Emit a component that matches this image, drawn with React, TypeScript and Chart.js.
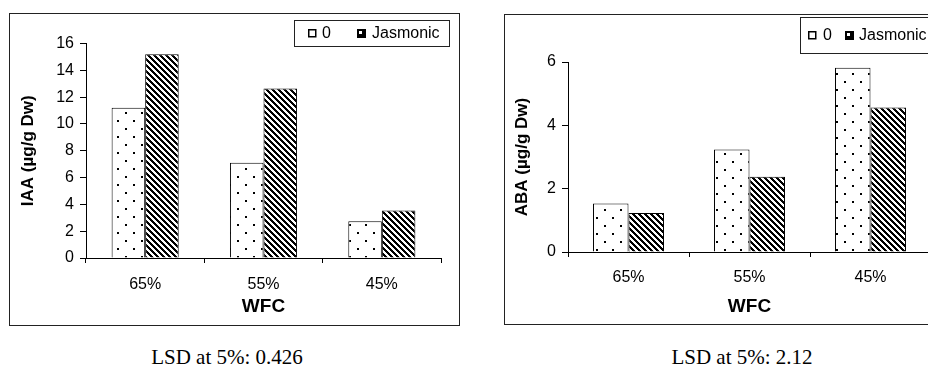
import React, { useEffect, useRef } from "react";
import { Chart, registerables } from "chart.js";

Chart.register(...registerables);

// ---- data ----
const categories = ["65%", "55%", "45%"];
const seriesLabels = ["0", "Jasmonic"];
const iaaControl = [11.2, 7.1, 2.75];
const iaaJasmonic = [15.2, 12.65, 3.55];
const abaControl = [1.53, 3.24, 5.82];
const abaJasmonic = [1.23, 2.38, 4.56];
const iaaTickValues = [0, 2, 4, 6, 8, 10, 12, 14, 16];
const abaTickValues = [0, 2, 4, 6];
const xTitle = "WFC";
const iaaTitle = "IAA (µg/g Dw)";
const abaTitle = "ABA (µg/g Dw)";
const iaaNote = "LSD at 5%: 0.426";
const abaNote = "LSD at 5%: 2.12";

const SANS = "'Liberation Sans', Arial, sans-serif";

function makeDots(): CanvasPattern | string {
  const c = document.createElement("canvas");
  c.width = 16;
  c.height = 16;
  const g = c.getContext("2d");
  if (!g) return "#fff";
  g.fillStyle = "#fff";
  g.fillRect(0, 0, 16, 16);
  g.fillStyle = "#000";
  g.fillRect(4, 3, 2, 2);
  g.fillRect(12, 11, 2, 2);
  return g.createPattern(c, "repeat") || "#fff";
}

function makeStripes(): CanvasPattern | string {
  const P = 6;
  const c = document.createElement("canvas");
  c.width = P;
  c.height = P;
  const g = c.getContext("2d");
  if (!g) return "#000";
  const img = g.createImageData(P, P);
  for (let y = 0; y < P; y++) {
    for (let x = 0; x < P; x++) {
      const m = (((x - y) % P) + P) % P;
      const v = m < 3 ? 0 : 255;
      const i = (y * P + x) * 4;
      img.data[i] = v;
      img.data[i + 1] = v;
      img.data[i + 2] = v;
      img.data[i + 3] = 255;
    }
  }
  g.putImageData(img, 0, 0);
  return g.createPattern(c, "repeat") || "#000";
}

interface Panel {
  width: number;
  height: number;
  area: { left: number; top: number; right: number; bottom: number };
  yTitle: string;
  control: number[];
  jasmonic: number[];
  ticks: number[];
  catPct: number;
  xTickPad: number;
  xTitlePadBottom: number;
  yTitlePadTop: number;
  legend: { x: number; y: number; w: number; h: number; m1: number; t1: number; m2: number; t2: number };
}

function ChartPanel({ p }: { p: Panel }) {
  const ref = useRef<HTMLCanvasElement | null>(null);
  useEffect(() => {
    const canvas = ref.current;
    if (!canvas) return;
    const dots = makeDots();
    const stripes = makeStripes();
    const lg = p.legend;

    const framePlugin = {
      id: "frame",
      afterDraw(chart: any) {
        const ctx = chart.ctx;
        ctx.save();
        ctx.strokeStyle = "#222";
        ctx.lineWidth = 1;
        ctx.strokeRect(0.5, 0.5, chart.width - 1, chart.height - 1);
        // legend box
        ctx.fillStyle = "#fff";
        ctx.fillRect(lg.x, lg.y, lg.w, lg.h);
        ctx.strokeStyle = "#222";
        ctx.strokeRect(lg.x + 0.5, lg.y + 0.5, lg.w, lg.h);
        const cy = lg.y + lg.h / 2;
        const ds = chart.data.datasets;
        // marker 1: white square
        ctx.fillStyle = "#fff";
        ctx.fillRect(lg.m1, cy - 4, 8, 8);
        ctx.strokeStyle = "#000";
        ctx.lineWidth = 1.5;
        ctx.strokeRect(lg.m1 + 0.75, cy - 3.25, 7, 7);
        // marker 2: black square with light notch
        ctx.fillStyle = "#000";
        ctx.fillRect(lg.m2, cy - 4, 9, 9);
        ctx.fillStyle = "#fff";
        ctx.fillRect(lg.m2 + 2, cy - 2, 3, 3);
        ctx.fillStyle = "#000";
        ctx.font = "16px " + SANS;
        ctx.textBaseline = "middle";
        ctx.textAlign = "left";
        ctx.fillText(ds[0].label, lg.t1, cy + 1);
        ctx.fillText(ds[1].label, lg.t2, cy + 1);
        ctx.restore();
      },
    };

    const chart = new Chart(canvas, {
      type: "bar",
      data: {
        labels: categories,
        datasets: [
          {
            label: seriesLabels[0],
            data: p.control,
            backgroundColor: dots as any,
            borderColor: "#000",
            borderWidth: 1,
          },
          {
            label: seriesLabels[1],
            data: p.jasmonic,
            backgroundColor: stripes as any,
            borderColor: "#000",
            borderWidth: 1,
          },
        ],
      },
      options: {
        animation: false,
        responsive: false,
        maintainAspectRatio: false,
        devicePixelRatio: 1,
        datasets: { bar: { categoryPercentage: p.catPct, barPercentage: 1 } },
        layout: {
          padding: { left: 0, top: p.area.top, right: p.width - p.area.right, bottom: 0 },
        },
        plugins: { legend: { display: false }, tooltip: { enabled: false }, title: { display: false } },
        scales: {
          x: {
            type: "category",
            offset: true,
            grid: { display: true, offset: true, drawOnChartArea: false, drawTicks: true, tickLength: 5, color: "#000" },
            border: { display: true, color: "#000", width: 1 },
            ticks: { color: "#000", font: { family: SANS, size: 16 }, padding: p.xTickPad, maxRotation: 0 },
            title: {
              display: true,
              text: xTitle,
              color: "#000",
              font: { family: SANS, size: 19, weight: "bold" },
              padding: { top: 0, bottom: p.xTitlePadBottom },
            },
            afterFit(s: any) {
              s.height = p.height - p.area.bottom;
            },
          },
          y: {
            type: "linear",
            min: p.ticks[0],
            max: p.ticks[p.ticks.length - 1],
            grid: { display: true, drawOnChartArea: false, drawTicks: true, tickLength: 6, color: "#000" },
            border: { display: true, color: "#000", width: 1 },
            ticks: { color: "#000", font: { family: SANS, size: 16 }, padding: 6 },
            afterBuildTicks(s: any) {
              s.ticks = p.ticks.map((v) => ({ value: v }));
            },
            title: {
              display: true,
              text: p.yTitle,
              color: "#000",
              font: { family: SANS, size: 17, weight: "bold" },
              padding: { top: p.yTitlePadTop, bottom: 0 },
            },
            afterFit(s: any) {
              s.width = p.area.left;
            },
          },
        },
      } as any,
      plugins: [framePlugin],
    });
    return () => chart.destroy();
  }, [p]);
  return <canvas ref={ref} width={p.width} height={p.height} style={{ display: "block", width: p.width, height: p.height }} />;
}

const leftPanel: Panel = {
  width: 451,
  height: 313,
  area: { left: 77, top: 30.5, right: 432, bottom: 245 },
  yTitle: iaaTitle,
  control: iaaControl,
  jasmonic: iaaJasmonic,
  ticks: iaaTickValues,
  catPct: 0.567,
  xTickPad: 12,
  xTitlePadBottom: 7.6,
  yTitlePadTop: 8.8,
  legend: { x: 285, y: 7, w: 155, h: 26, m1: 299, t1: 313, m2: 348, t2: 363 },
};

const rightPanel: Panel = {
  width: 460,
  height: 311,
  area: { left: 64, top: 48, right: 427, bottom: 238 },
  yTitle: abaTitle,
  control: abaControl,
  jasmonic: abaJasmonic,
  ticks: abaTickValues,
  catPct: 0.587,
  xTickPad: 11,
  xTitlePadBottom: 6.6,
  yTitlePadTop: 7.8,
  legend: { x: 296, y: 3, w: 160, h: 36, m1: 304, t1: 319, m2: 341, t2: 355 },
};

export default function App() {
  const noteStyle: React.CSSProperties = {
    position: "absolute",
    width: 300,
    textAlign: "center",
    fontFamily: "'Liberation Serif', 'Times New Roman', serif",
    fontSize: 21,
    lineHeight: "24px",
    color: "#000",
    whiteSpace: "nowrap",
  };
  return (
    <div
      style={{
        position: "fixed",
        left: 0,
        top: 0,
        width: 928,
        height: 365,
        overflow: "hidden",
        background: "#fff",
      }}
    >
      <div style={{ position: "absolute", left: 9, top: 13 }}>
        <ChartPanel p={leftPanel} />
      </div>
      <div style={{ position: "absolute", left: 504, top: 14 }}>
        <ChartPanel p={rightPanel} />
      </div>
      <div style={{ ...noteStyle, left: 227 - 150, top: 345 }}>{iaaNote}</div>
      <div style={{ ...noteStyle, left: 742 - 150, top: 345 }}>{abaNote}</div>
    </div>
  );
}
